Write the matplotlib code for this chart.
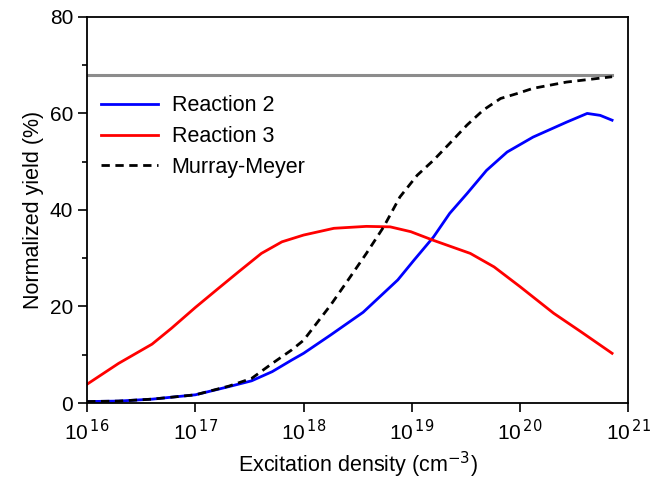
import matplotlib.pyplot as plt
import numpy as np
from matplotlib.ticker import FixedLocator, NullLocator, MultipleLocator

plt.rcParams['font.family'] = ['Liberation Sans', 'DejaVu Sans']

# log10 of excitation density (cm^-3) and normalized yield (%)
r2_logx = [16.0, 16.29, 16.6, 17.0, 17.31, 17.52, 17.71, 17.89, 18.0, 18.25, 18.55,
           18.87, 19.02, 19.2, 19.35, 19.51, 19.69, 19.88, 20.12, 20.43, 20.62,
           20.74, 20.85]
r2_y = [0.3, 0.4, 0.8, 1.7, 3.4, 4.6, 6.5, 8.9, 10.3, 14.1, 18.8,
        25.5, 29.6, 34.4, 39.3, 43.4, 48.2, 52.0, 55.1, 58.2, 60.0,
        59.6, 58.6]

r3_logx = [16.0, 16.29, 16.6, 16.78, 17.0, 17.21, 17.4, 17.61, 17.8, 18.0, 18.28,
           18.58, 18.8, 18.99, 19.2, 19.54, 19.76, 20.0, 20.31, 20.56, 20.85]
r3_y = [3.9, 8.2, 12.2, 15.5, 19.8, 23.7, 27.2, 31.0, 33.4, 34.8, 36.2,
        36.6, 36.5, 35.5, 33.7, 31.0, 28.2, 24.1, 18.6, 14.8, 10.3]

mm_logx = [16.0, 16.29, 16.6, 17.0, 17.31, 17.52, 17.71, 17.89, 18.0, 18.25, 18.43,
           18.58, 18.74, 18.89, 19.05, 19.2, 19.35, 19.51, 19.66, 19.82, 19.97,
           20.12, 20.43, 20.85]
mm_y = [0.3, 0.4, 0.8, 1.7, 3.5, 5.1, 8.2, 11.0, 13.0, 20.3, 26.1,
        31.0, 36.5, 42.7, 47.2, 50.3, 53.8, 57.6, 60.7, 63.1, 64.1,
        65.2, 66.5, 67.6]

ref_logx = [16.0, 20.85]
ref_y = [68.0, 68.0]

fig = plt.figure(figsize=(6.6, 4.83), dpi=100)
ax = fig.add_axes([0.132, 0.1656, 0.82, 0.7994])

ax.plot(10 ** np.array(ref_logx), ref_y, color='#8c8c8c', lw=2.2)
ax.plot(10 ** np.array(r2_logx), r2_y, color='#0000ff', lw=2.0, label='Reaction 2')
ax.plot(10 ** np.array(r3_logx), r3_y, color='#ff0000', lw=2.0, label='Reaction 3')
ax.plot(10 ** np.array(mm_logx), mm_y, color='black', lw=2.0, ls=(0, (3, 2)),
        label='Murray-Meyer')

ax.set_xscale('log')
ax.set_xlim(1e16, 1e21)
ax.set_ylim(0, 80)
xt = [1e16, 1e17, 1e18, 1e19, 1e20, 1e21]
ax.xaxis.set_major_locator(FixedLocator(xt))
ax.xaxis.set_minor_locator(NullLocator())
ax.set_xticklabels([r'10$^{\,%d}$' % e for e in range(16, 22)])
ax.yaxis.set_major_locator(MultipleLocator(20))
ax.yaxis.set_minor_locator(MultipleLocator(10))

ax.tick_params(axis='both', which='major', direction='out', length=6.5, width=1.2,
               labelsize=15, top=False, right=False)
ax.tick_params(axis='y', which='minor', direction='out', length=3.5, width=1.2)
ax.tick_params(axis='x', pad=5)
for s in ax.spines.values():
    s.set_linewidth(1.3)

ax.set_xlabel(r'Excitation density (cm$^{-3}$)', fontsize=15.5)
ax.set_ylabel('Normalized yield (%)', fontsize=15.5)

ax.legend(loc='upper left', bbox_to_anchor=(-0.011, 0.847), frameon=False, fontsize=15.5,
          handlelength=2.65, handletextpad=0.65, labelspacing=0.45)

fig.savefig('out.png', dpi=100)
